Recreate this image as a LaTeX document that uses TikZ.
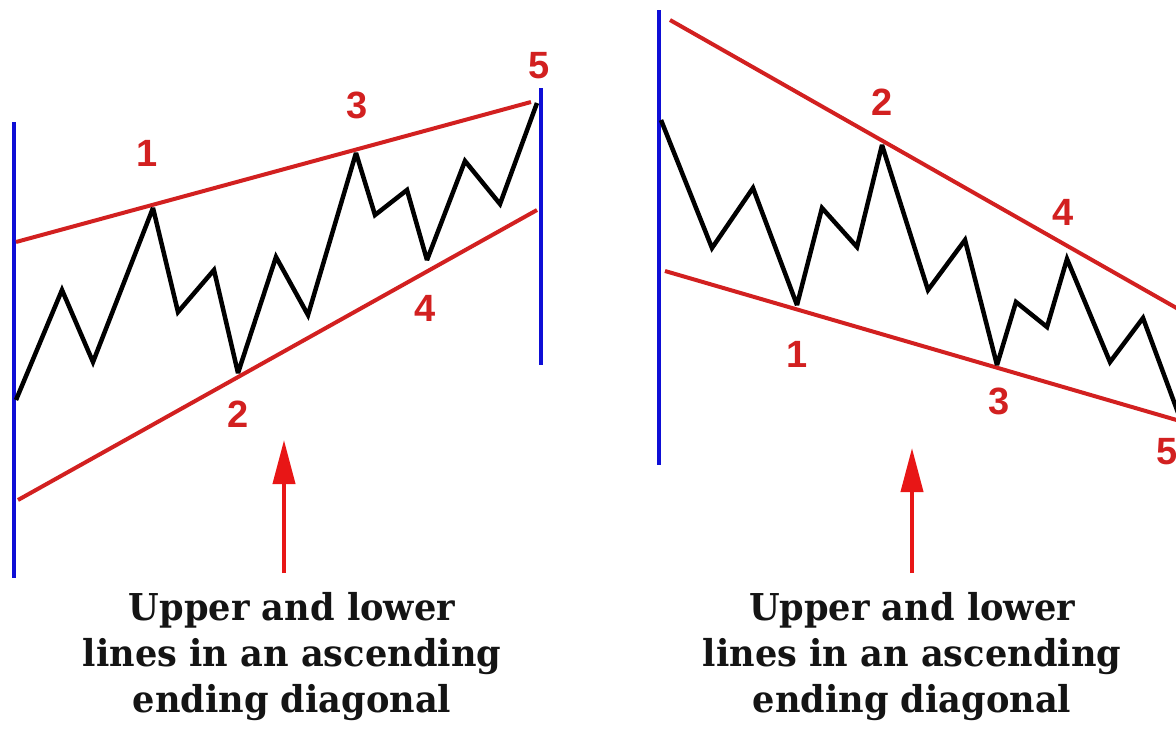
\documentclass[tikz,border=0pt]{standalone}
\usepackage{fontspec}
\newfontfamily\labfont{Liberation Sans}
\newfontfamily\capfont[FakeStretch=0.95]{DejaVu Serif}
\usetikzlibrary{arrows.meta}
\definecolor{trendred}{RGB}{210,32,32}
\definecolor{arrred}{RGB}{232,22,22}
\definecolor{bound}{RGB}{14,14,214}
\tikzset{
  bline/.style={draw=bound,line width=4pt},
  rline/.style={draw=trendred,line width=4pt},
  wave/.style={draw=black,line width=4.5pt,line join=miter,miter limit=3},
  wlab/.style={text=trendred,font=\labfont\bfseries\fontsize{38}{38}\selectfont,inner sep=0pt},
  capt/.style={align=center,font=\capfont\bfseries\fontsize{37}{46}\selectfont,inner sep=0pt,text=black!92},
  uparr/.style={draw=arrred,line width=4pt,-{Triangle[width=22pt,length=44pt]}}
}
\begin{document}
\begin{tikzpicture}[x=1pt,y=-1pt]
\useasboundingbox (0,0) rectangle (1176,731);
% ---------- left panel ----------
\coordinate (LBt) at (14,122); \coordinate (LBb) at (14,578);
\coordinate (RBt) at (541,88); \coordinate (RBb) at (541,365);
\draw[bline] (LBt) -- (LBb);
\draw[bline] (RBt) -- (RBb);
\coordinate (LU1) at (16,242); \coordinate (LU2) at (531,102);
\coordinate (LL1) at (18,500); \coordinate (LL2) at (537,210);
\draw[rline] (LU1) -- (LU2);
\draw[rline] (LL1) -- (LL2);
\draw[wave] (16,400) -- (62,290) -- (93,362) -- (153,208) -- (178,312) -- (214,270)
  -- (238,373) -- (276,257) -- (308,315) -- (356,153) -- (375,215) -- (407,190)
  -- (427,260) -- (465,161) -- (500,204) -- (537,103);
\node[wlab] (l1) at (147,153) {1};
\node[wlab] (l2) at (238,414) {2};
\node[wlab] (l3) at (357,105) {3};
\node[wlab] (l4) at (425,308) {4};
\node[wlab] (l5) at (539,66) {5};
\node[capt] (capL) at (292,657) {Upper and lower\\lines in an ascending\\ending diagonal};
\coordinate (aLb) at (284,573); \coordinate (aLt) at (284,440);
\draw[uparr] (aLb) -- (aLt);
% ---------- right panel ----------
\coordinate (RLt) at (659,10); \coordinate (RLb) at (659,465);
\draw[bline] (RLt) -- (RLb);
\coordinate (RU1) at (670,20); \coordinate (RU2) at (1180,310);
\coordinate (RL1) at (665,271); \coordinate (RL2) at (1180,421);
\draw[rline] (RU1) -- (RU2);
\draw[rline] (RL1) -- (RL2);
\draw[wave] (661,120) -- (712,248) -- (753,188) -- (797,305) -- (822,208) -- (857,247)
  -- (882,145) -- (928,290) -- (965,240) -- (997,365) -- (1016,302) -- (1047,327)
  -- (1067,259) -- (1110,362) -- (1143,318) -- (1180,418);
\node[wlab] (r1) at (797,354) {1};
\node[wlab] (r2) at (882,102) {2};
\node[wlab] (r3) at (999,401) {3};
\node[wlab] (r4) at (1063,212) {4};
\node[wlab] (r5) at (1167,452) {5};
\node[capt] (capR) at (912,657) {Upper and lower\\lines in an ascending\\ending diagonal};
\coordinate (aRb) at (912,573); \coordinate (aRt) at (912,448);
\draw[uparr] (aRb) -- (aRt);
\end{tikzpicture}
\end{document}
